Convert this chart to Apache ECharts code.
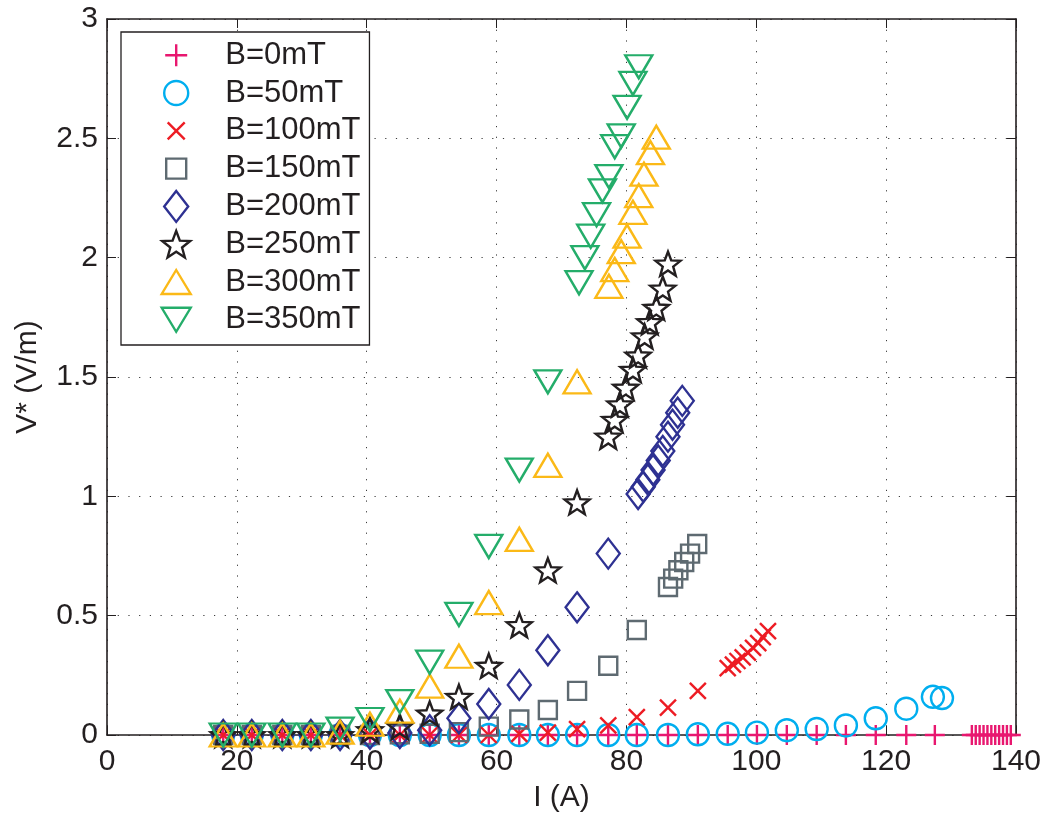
<!DOCTYPE html>
<html>
<head>
<meta charset="utf-8">
<script src="https://cdn.jsdelivr.net/npm/echarts@6/dist/echarts.min.js"></script>
<style>
  html, body { margin: 0; padding: 0; background: #ffffff; }
  #chart { width: 1048px; height: 818px; }
</style>
</head>
<body>
<div id="chart"></div>
<script>
// Measured critical voltage V* (V/m) against current I (A) for several applied fields.
const seriesNames = ['B=0mT', 'B=50mT', 'B=100mT', 'B=150mT', 'B=200mT', 'B=250mT', 'B=300mT', 'B=350mT'];

const current0 = [17.9, 22.3, 27.0, 31.4, 35.9, 40.5, 45.1, 49.7, 54.2, 58.8, 63.5, 67.9, 72.4, 77.2, 81.6, 86.4, 91.0, 95.6, 100.1, 104.7, 109.3, 113.8, 118.4, 123.1, 127.5,
                  133.2, 133.8, 134.4, 135.0, 135.6, 136.2, 136.8, 137.4, 138.0, 138.6, 139.2];
const field0 = [0, 0, 0, 0, 0, 0, 0, 0, 0, 0, 0, 0, 0, 0, 0, 0, 0, 0, 0, 0, 0, 0, 0, 0, 0,
                0, 0, 0, 0, 0, 0, 0, 0, 0, 0, 0];

const current50 = [17.9, 22.3, 27.0, 31.4, 35.9, 40.5, 45.1, 49.7, 54.2, 58.8, 63.5, 67.9, 72.4, 77.2, 81.6, 86.4, 91.0, 95.6, 100.1, 104.7, 109.3, 113.8, 118.4, 123.1, 127.2, 128.6];
const field50 = [0, 0, 0, 0, 0, 0, 0, 0, 0, 0, 0, 0, 0, 0, 0, 0, 0.003, 0.005, 0.01, 0.02, 0.025, 0.04, 0.07, 0.11, 0.16, 0.155];

const current100 = [17.9, 22.3, 27.0, 31.4, 35.9, 40.5, 45.1, 49.7, 54.2, 58.8, 63.5, 67.9, 72.4, 77.2, 81.6, 86.4, 91.0,
                    95.6, 96.4, 97.1, 97.9, 98.7, 99.5, 100.3, 101.0, 101.8];
const field100 = [0, 0, 0, 0, 0, 0, 0, 0, 0, 0, 0.005, 0.01, 0.025, 0.04, 0.075, 0.115, 0.185,
                  0.28, 0.295, 0.31, 0.325, 0.345, 0.365, 0.385, 0.41, 0.435];

const current150 = [17.9, 22.3, 27.0, 31.4, 35.9, 40.5, 45.1, 49.7, 54.2, 58.8, 63.5, 67.9, 72.4, 77.2, 81.6,
                    86.4, 87.2, 88.0, 88.9, 89.8, 90.9];
const field150 = [0, 0, 0, 0, 0, 0, 0.003, 0.005, 0.012, 0.035, 0.065, 0.105, 0.185, 0.29, 0.44,
                  0.62, 0.655, 0.69, 0.725, 0.76, 0.80];

const current200 = [17.9, 22.3, 27.0, 31.4, 35.9, 40.5, 45.1, 49.7, 54.2, 58.8, 63.5, 67.9, 72.4, 77.2,
                    81.8, 82.6, 83.3, 84.1, 84.9, 85.6, 86.4, 87.1, 87.9, 88.6];
const field200 = [0, 0, 0, 0, 0, 0.005, 0.008, 0.02, 0.07, 0.13, 0.21, 0.355, 0.535, 0.76,
                  1.01, 1.04, 1.07, 1.11, 1.15, 1.19, 1.25, 1.30, 1.35, 1.40];

const current250 = [17.9, 22.3, 27.0, 31.4, 35.9, 40.5, 45.1, 49.7, 54.2, 58.8, 63.5, 67.9, 72.4,
                    77.2, 78.2, 79.0, 79.9, 81.0, 81.8, 82.8, 83.6, 84.6, 85.6, 86.4];
const field250 = [0, 0, 0, 0, 0, 0.02, 0.035, 0.09, 0.16, 0.29, 0.46, 0.69, 0.975,
                  1.25, 1.32, 1.385, 1.455, 1.53, 1.59, 1.67, 1.73, 1.79, 1.87, 1.975];

const current300 = [17.9, 22.3, 27.0, 31.4, 35.9, 40.5, 45.1, 49.7, 54.2, 58.8, 63.5, 67.9, 72.4,
                    77.3, 78.2, 79.2, 80.1, 81.0, 81.9, 82.7, 83.7, 84.6];
const field300 = [0, 0, 0, 0, 0.012, 0.045, 0.10, 0.205, 0.33, 0.555, 0.82, 1.13, 1.48,
                  1.88, 1.95, 2.025, 2.09, 2.19, 2.26, 2.35, 2.44, 2.505];

const current350 = [17.9, 22.3, 27.0, 31.4, 35.9, 40.5, 45.1, 49.7, 54.2, 58.8, 63.5, 67.9,
                    72.7, 73.6, 74.5, 75.4, 76.3, 77.3, 78.2, 79.2, 80.1, 81.0, 81.9];
const field350 = [0, 0, 0, 0, 0.025, 0.065, 0.14, 0.305, 0.505, 0.79, 1.11, 1.48,
                  1.895, 2.00, 2.09, 2.18, 2.28, 2.34, 2.465, 2.51, 2.63, 2.73, 2.80];

const currents = [current0, current50, current100, current150, current200, current250, current300, current350];
const fields = [field0, field50, field100, field150, field200, field250, field300, field350];

const colors = ['#e8176f', '#00aeef', '#ed1c24', '#5e6a71', '#2e3192', '#231f20', '#fbb917', '#24ad6a'];
const ink = '#231f20';
const fontFamily = '"Liberation Sans", Arial, Helvetica, sans-serif';

// Five-pointed star outline centred at (cx, cy) with outer radius R.
function starPath(cx, cy, R, ratio) {
  let d = '';
  for (let i = 0; i < 10; i++) {
    const a = -Math.PI / 2 + i * Math.PI / 5;
    const rad = i % 2 ? R * ratio : R;
    d += (i ? 'L' : 'M') + (cx + rad * Math.cos(a)).toFixed(2) + ' ' + (cy + rad * Math.sin(a)).toFixed(2);
  }
  return d + 'Z';
}

// Marker shapes used on the plot.
const plotSymbols = [
  'path://M0 10L20 10M10 0L10 20',
  'circle',
  'path://M0 0L16 16M16 0L0 16',
  'rect',
  'path://M12 0L24 15L12 30L0 15Z',
  'path://' + starPath(0, 0, 10, 0.42),
  'path://M14 0L28 24L0 24Z',
  'path://M0 0L28 0L14 24Z'
];
const plotSizes = [[20, 20], 22, [16, 16], 18, [23, 30], [25, 24], [27, 23], [27, 23]];

// Legend icons, each drawn in a common 88x32 frame with the mark centred at (44, 16).
const frame = 'M0 0M88 32';
const legendIcons = [
  'path://' + frame + 'M33 16L55 16M44 5L44 27',
  'path://' + frame + 'M32 16A12 12 0 1 1 56 16A12 12 0 1 1 32 16Z',
  'path://' + frame + 'M35.5 7.5L52.5 24.5M52.5 7.5L35.5 24.5',
  'path://' + frame + 'M34 6L54 6L54 26L34 26Z',
  'path://' + frame + 'M44 0.5L56 16L44 31.5L32 16Z',
  'path://' + frame + starPath(44, 17.4, 14.7, 0.42),
  'path://' + frame + 'M44 4L58.5 28L29.5 28Z',
  'path://' + frame + 'M29.5 4L58.5 4L44 28Z'
];

const series = seriesNames.map((name, i) => ({
  name: name,
  type: 'scatter',
  data: currents[i].map((x, k) => [x, fields[i][k]]),
  symbol: plotSymbols[i],
  symbolSize: plotSizes[i],
  itemStyle: { color: 'rgba(0,0,0,0)', borderColor: colors[i], borderWidth: 2.4, opacity: 1 },
  emphasis: { disabled: true },
  z: 2 + i
}));

const dotted = { color: '#3a3a3a', width: 1, type: [1.2, 9.5] };
const frameLine = { color: ink, width: 1.6 };

const option = {
  animation: false,
  backgroundColor: '#ffffff',
  grid: { left: 107, top: 19, width: 909, height: 717, containLabel: false },
  legend: {
    orient: 'vertical',
    left: 121,
    top: 32,
    padding: [6, 9, 8, 10],
    itemWidth: 88,
    itemHeight: 32,
    itemGap: 3.4,
    backgroundColor: '#ffffff',
    borderColor: ink,
    borderWidth: 1.3,
    borderRadius: 0,
    selectedMode: false,
    itemStyle: { borderWidth: 2.4 },
    textStyle: { fontFamily: fontFamily, fontSize: 31, lineHeight: 32, color: ink },
    data: seriesNames.map((n, i) => ({ name: n, icon: legendIcons[i] }))
  },
  xAxis: [
    {
      type: 'value', min: 0, max: 140, interval: 20, position: 'bottom',
      name: 'I (A)', nameLocation: 'middle', nameGap: 48,
      nameTextStyle: { fontFamily: fontFamily, fontSize: 30, color: ink },
      axisLine: { show: true, onZero: false, lineStyle: frameLine },
      axisTick: { show: true, inside: true, length: 9, lineStyle: { color: ink, width: 1 } },
      axisLabel: { fontFamily: fontFamily, fontSize: 30, color: ink, margin: 12 },
      splitLine: { show: true, lineStyle: dotted }
    },
    {
      type: 'value', min: 0, max: 140, interval: 20, position: 'top',
      axisLine: { show: true, onZero: false, lineStyle: frameLine },
      axisTick: { show: true, inside: true, length: 9, lineStyle: { color: ink, width: 1 } },
      axisLabel: { show: false },
      splitLine: { show: false }
    }
  ],
  yAxis: [
    {
      type: 'value', min: 0, max: 3, interval: 0.5, position: 'left',
      name: 'V* (V/m)', nameLocation: 'middle', nameGap: 64, nameRotate: 90,
      nameTextStyle: { fontFamily: fontFamily, fontSize: 30, color: ink },
      axisLine: { show: true, onZero: false, lineStyle: frameLine },
      axisTick: { show: true, inside: true, length: 9, lineStyle: { color: ink, width: 1 } },
      axisLabel: { fontFamily: fontFamily, fontSize: 30, color: ink, margin: 9 },
      splitLine: { show: true, lineStyle: dotted }
    },
    {
      type: 'value', min: 0, max: 3, interval: 0.5, position: 'right',
      axisLine: { show: true, onZero: false, lineStyle: frameLine },
      axisTick: { show: true, inside: true, length: 9, lineStyle: { color: ink, width: 1 } },
      axisLabel: { show: false },
      splitLine: { show: false }
    }
  ],
  series: series
};

const chart = echarts.init(document.getElementById('chart'), null, { renderer: 'canvas' });
chart.setOption(option);
</script>
</body>
</html>
